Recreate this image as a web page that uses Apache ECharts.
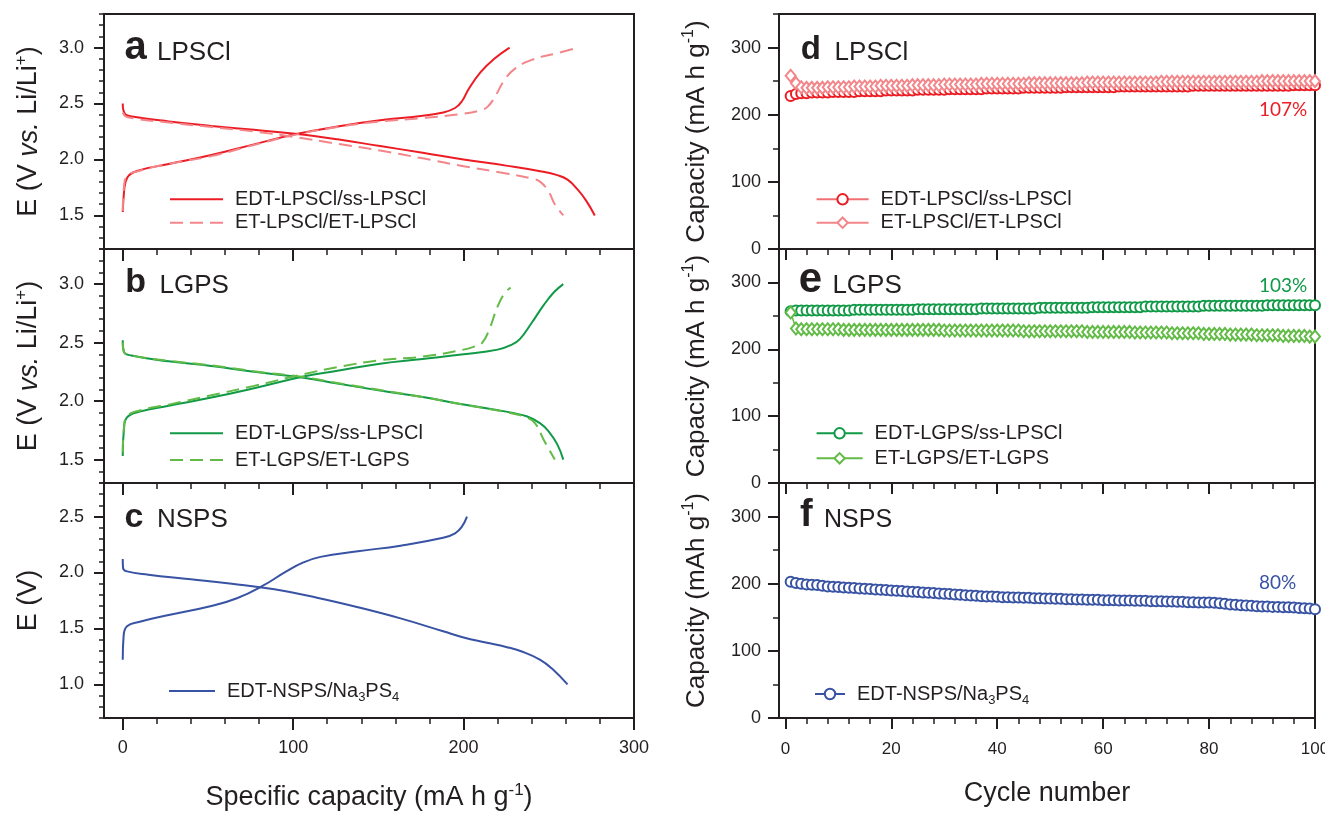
<!DOCTYPE html>
<html><head><meta charset="utf-8">
<script src="https://cdn.jsdelivr.net/npm/echarts@6/dist/echarts.min.js"></script>
<style>html,body{margin:0;padding:0;background:#fff}#c{width:1325px;height:813px}</style>
</head><body><div id="c"></div>
<script>
// ---------- voltage profiles: [specific capacity (mA h g-1), E (V)] ----------
const capA_EDT_dis = [[0,2.50],[1.2,2.41],[7.4,2.38],[27,2.34],[52,2.30],[77,2.265],[101,2.23],[126,2.18],[151,2.12],[176,2.06],[200,2.00],[225,1.945],[245,1.895],[255,1.86],[261,1.82],[267,1.73],[272,1.63],[277,1.50]];
const capA_EDT_chg = [[0,1.53],[0.5,1.66],[1.5,1.79],[3.7,1.86],[10,1.905],[27,1.96],[52,2.04],[77,2.135],[101,2.225],[126,2.295],[151,2.35],[176,2.39],[188,2.42],[195,2.46],[199,2.52],[203,2.63],[210,2.78],[218,2.90],[227,3.00]];
const capA_ET_dis = [[0,2.42],[2.5,2.38],[27,2.33],[52,2.29],[77,2.25],[101,2.20],[126,2.14],[151,2.08],[176,2.01],[200,1.94],[225,1.875],[240,1.83],[245,1.80],[250,1.71],[253.5,1.60],[258.5,1.50]];
const capA_ET_chg = [[0,1.54],[0.7,1.75],[2.5,1.85],[10,1.90],[27,1.96],[52,2.03],[77,2.13],[101,2.22],[126,2.29],[151,2.34],[176,2.37],[200,2.41],[210,2.44],[214,2.47],[218,2.55],[224,2.71],[230,2.81],[240,2.89],[255,2.95],[267,3.00]];

const capB_EDT_dis = [[0,2.52],[0.7,2.42],[5,2.39],[27,2.34],[52,2.30],[77,2.25],[106,2.20],[126,2.15],[151,2.09],[176,2.035],[200,1.97],[225,1.91],[237,1.87],[245,1.81],[250,1.74],[255,1.63],[258.5,1.50]];
const capB_EDT_chg = [[0,1.53],[0.7,1.76],[2.5,1.86],[10,1.91],[27,1.96],[52,2.03],[77,2.11],[106,2.21],[126,2.26],[151,2.32],[176,2.36],[200,2.40],[220,2.44],[228,2.48],[233,2.53],[240,2.67],[247,2.82],[253,2.93],[258.5,3.00]];
const capB_ET_dis = [[0,2.50],[0.7,2.42],[5,2.39],[27,2.345],[52,2.305],[77,2.255],[106,2.205],[126,2.155],[151,2.095],[176,2.035],[200,1.97],[225,1.905],[237,1.86],[242,1.81],[247,1.67],[253.5,1.50]];
const capB_ET_chg = [[0,1.56],[0.7,1.77],[2.5,1.87],[10,1.92],[27,1.97],[52,2.05],[77,2.13],[106,2.23],[126,2.29],[151,2.35],[176,2.38],[200,2.44],[207,2.47],[211,2.50],[215,2.61],[220,2.81],[224,2.92],[227.6,2.97]];

const capC_dis = [[0,2.12],[0.2,2.04],[2.5,2.01],[15,1.98],[40,1.94],[64,1.90],[89,1.85],[114,1.775],[138,1.69],[163,1.59],[188,1.475],[200,1.42],[213,1.375],[225,1.335],[235,1.29],[245,1.22],[252,1.14],[261,1.00]];
const capC_chg = [[0,1.22],[0.5,1.43],[2.5,1.52],[10,1.56],[27,1.62],[52,1.70],[67,1.77],[82,1.88],[96,2.01],[106,2.09],[116,2.14],[138,2.19],[163,2.24],[188,2.31],[195,2.35],[199,2.41],[202,2.50]];

// ---------- cycling: capacity (mA h g-1) per cycle ----------
const cycleNo = [1,2,3,4,5,6,7,8,9,10,11,12,13,14,15,16,17,18,19,20,21,22,23,24,25,26,27,28,29,30,31,32,33,34,35,36,37,38,39,40,41,42,43,44,45,46,47,48,49,50,51,52,53,54,55,56,57,58,59,60,61,62,63,64,65,66,67,68,69,70,71,72,73,74,75,76,77,78,79,80,81,82,83,84,85,86,87,88,89,90,91,92,93,94,95,96,97,98,99,100];
const cycD_EDT = [228,231,232,232,233,233,233,233,234,234,
 234,234,234,235,235,235,235,235,236,236,
 236,236,236,236,237,237,237,237,237,237,
 238,238,238,238,238,238,238,239,239,239,
 239,239,239,239,240,240,240,240,240,240,
 240,240,241,241,241,241,241,241,241,241,
 241,241,242,242,242,242,242,242,242,242,
 242,242,242,242,242,242,243,243,243,243,
 243,243,243,243,243,243,243,243,243,243,
 243,243,243,243,243,244,244,244,244,244];
const cycD_ET = [258,247,241,240,240,240,240,241,241,241,
 241,241,242,242,242,242,242,243,243,243,
 243,243,243,244,244,244,244,244,244,245,
 245,245,245,245,245,245,246,246,246,246,
 246,246,246,246,246,247,247,247,247,247,
 247,247,247,247,247,247,248,248,248,248,
 248,248,248,248,248,248,248,248,248,248,
 249,249,249,249,249,249,249,249,249,249,
 249,249,249,249,249,249,249,249,249,250,
 250,250,250,250,250,250,250,250,250,250];
const cycE_EDT = [257,258,258,258,258,258,258,258,258,258,
 258,258,259,259,259,259,259,259,259,259,
 259,259,259,259,260,260,260,260,260,260,
 260,260,260,260,260,260,261,261,261,261,
 261,261,261,261,261,261,261,262,262,262,
 262,262,262,262,262,262,262,263,263,263,
 263,263,263,263,263,263,263,264,264,264,
 264,264,264,264,264,264,264,264,265,265,
 265,265,265,265,265,265,265,265,265,265,
 266,266,266,266,266,266,266,266,266,266];
const cycE_ET = [255,231,230,230,230,230,230,230,230,230,
 229,229,229,229,229,229,229,229,229,229,
 229,229,229,229,229,229,229,229,229,228,
 228,228,228,228,228,228,228,228,228,228,
 228,228,228,228,227,227,227,227,227,227,
 227,227,227,227,227,227,226,226,226,226,
 226,226,226,226,226,225,225,225,225,225,
 225,225,224,224,224,224,224,224,223,223,
 223,223,223,222,222,222,222,222,221,221,
 221,221,221,220,220,220,220,220,219,219];
const cycF_EDT = [203,201,200,199,198.5,198,197,196,195.5,195,
 194.5,194,193.5,193,192.5,192,191.5,191,190.5,190,
 189.5,189,188.5,188,187.5,187,186.5,186,185.5,185,
 184.5,184,183.5,183,182.5,182,181.5,181,181,180.5,
 180,180,179.5,179.5,179,179,178.5,178.5,178,178,
 177.5,177.5,177,177,176.5,176.5,176,176,176,175.5,
 175.5,175.5,175,175,175,174.5,174.5,174.5,174,174,
 174,173.5,173.5,173,173,172.5,172.5,172,172,172,
 171.5,171,170,169,168.5,168,167.5,167,166.5,166,
 166,165.5,165.5,165,165,164.5,164,163.5,163,162];

// ---------- tick values ----------
const capTicksMajor = [0,100,200,300];
const capTicksMinor = [0,20,40,60,80,100,120,140,160,180,200,220,240,260,280,300];
const cycTicksMajor = [0,20,40,60,80,100];
const cycTicksMinor = [0,4,8,12,16,20,24,28,32,36,40,44,48,52,56,60,64,68,72,76,80,84,88,92,96,100];
const eTicksAB = [1.5,2.0,2.5,3.0];
const eTicksC = [1.0,1.5,2.0,2.5];
const eMinorA = [1.2,1.3,1.4,1.5,1.6,1.7,1.8,1.9,2.0,2.1,2.2,2.3,2.4,2.5,2.6,2.7,2.8,2.9,3.0,3.1,3.2,3.3];
const eMinorB = [1.3,1.4,1.5,1.6,1.7,1.8,1.9,2.0,2.1,2.2,2.3,2.4,2.5,2.6,2.7,2.8,2.9,3.0,3.1,3.2,3.3];
const eMinorC = [0.7,0.8,0.9,1.0,1.1,1.2,1.3,1.4,1.5,1.6,1.7,1.8,1.9,2.0,2.1,2.2,2.3,2.4,2.5,2.6,2.7,2.8];
const qTicksMajor = [0,100,200,300];
const qTicksMinor = [0,50,100,150,200,250,300,350];

// ---------- styling ----------
const FONT = 'Liberation Sans, Arial, Helvetica, sans-serif';
const INK = '#231f20';
const RED = '#ec1c24', PINK = '#f3868a';
const DGREEN = '#109a47', LGREEN = '#62bb46';
const BLUE = '#3852a4';

const grids = [
  {left:104, right:691, top:14, height:235},
  {left:104, right:691, top:249, height:234},
  {left:104, right:691, top:483, height:235},
  {left:779, right:10, top:14, height:235},
  {left:779, right:10, top:249, height:234},
  {left:779, right:10, top:483, height:235}
].map(g => Object.assign({show:true, borderColor:INK, borderWidth:2, backgroundColor:'transparent', containLabel:false, outerBoundsMode:'none'}, g));

const xAxis = [], yAxis = [];
function addAxes(gi, xr, yr) {
  xAxis.push({type:'value', gridIndex:gi, min:xr.min, max:xr.max, position:'bottom',
    axisLine:{show:true, onZero:false, lineStyle:{color:INK, width:2}},
    axisTick:{show:true, inside:false, length:xr.majLen, customValues:xr.major, lineStyle:{color:INK, width:2}},
    axisLabel: xr.labels ? {show:true, customValues:xr.major, margin:xr.margin, color:INK, fontFamily:FONT, fontSize:xr.fs, hideOverlap:false} : {show:false},
    splitLine:{show:false}});
  xAxis.push({type:'value', gridIndex:gi, min:xr.min, max:xr.max, position:'bottom',
    axisLine:{show:false, onZero:false},
    axisTick:{show:true, inside:false, length:xr.minLen, customValues:xr.minor, lineStyle:{color:INK, width:1.5}},
    axisLabel:{show:false}, splitLine:{show:false}});
  yAxis.push({type:'value', gridIndex:gi, min:yr.min, max:yr.max, position:'left',
    axisLine:{show:true, onZero:false, lineStyle:{color:INK, width:2}},
    axisTick:{show:true, inside:false, length:yr.majLen, customValues:yr.major, lineStyle:{color:INK, width:2}},
    axisLabel:{show:true, customValues:yr.major, margin:yr.margin, color:INK, fontFamily:FONT, fontSize:yr.fs,
      formatter: yr.fmt, hideOverlap:false},
    splitLine:{show:false}});
  yAxis.push({type:'value', gridIndex:gi, min:yr.min, max:yr.max, position:'left',
    axisLine:{show:false, onZero:false},
    axisTick:{show:true, inside:false, length:yr.minLen, customValues:yr.minor, lineStyle:{color:INK, width:1.5}},
    axisLabel:{show:false}, splitLine:{show:false}});
}
const f1 = v => v.toFixed(1);
const f0 = v => String(Math.round(v));
const capX = (lab) => ({min:-11, max:300, major:capTicksMajor, minor:capTicksMinor, majLen:12, minLen:6, labels:lab, margin:21, fs:18});
const cycX = (lab) => ({min:-1.2, max:100, major:cycTicksMajor, minor:cycTicksMinor, majLen:11, minLen:6, labels:lab, margin:23, fs:17});
const qY = {min:0, max:350, major:qTicksMajor, minor:qTicksMinor, majLen:11, minLen:6, margin:18, fs:18, fmt:f0};
addAxes(0, capX(false), {min:1.2, max:3.3, major:eTicksAB, minor:eMinorA, majLen:10, minLen:5, margin:20, fs:18, fmt:f1});
addAxes(1, capX(false), {min:1.3, max:3.3, major:eTicksAB, minor:eMinorB, majLen:10, minLen:5, margin:20, fs:18, fmt:f1});
addAxes(2, capX(true),  {min:0.7, max:2.8, major:eTicksC,  minor:eMinorC, majLen:10, minLen:5, margin:20, fs:18, fmt:f1});
addAxes(3, cycX(false), qY);
addAxes(4, cycX(false), qY);
addAxes(5, cycX(true),  qY);

const DASH = [13,7];
function curve(gi, name, data, color, dashed) {
  return {type:'line', name, xAxisIndex:2*gi, yAxisIndex:2*gi, data, symbol:'none', smooth:0.45,
    lineStyle:{color, width:2, type: dashed ? DASH : 'solid'}, itemStyle:{color}, z:3, silent:true};
}
function cyc(gi, name, vals, color, lineColor, sym, size) {
  return {type:'line', name, xAxisIndex:2*gi, yAxisIndex:2*gi, data: cycleNo.map((c,i)=>[c, vals[i]]),
    symbol:sym, symbolSize:size, showSymbol:true, showAllSymbol:true,
    lineStyle:{color:lineColor, width:1.5}, itemStyle:{color, borderColor:color, borderWidth:1.6}, z:3, silent:true};
}
const series = [
  curve(0,'a|EDT-LPSCl/ss-LPSCl', capA_EDT_dis, RED, false),
  curve(0,'a|EDT-LPSCl/ss-LPSCl', capA_EDT_chg, RED, false),
  curve(0,'a|ET-LPSCl/ET-LPSCl', capA_ET_dis, PINK, true),
  curve(0,'a|ET-LPSCl/ET-LPSCl', capA_ET_chg, PINK, true),
  curve(1,'b|EDT-LGPS/ss-LPSCl', capB_EDT_dis, DGREEN, false),
  curve(1,'b|EDT-LGPS/ss-LPSCl', capB_EDT_chg, DGREEN, false),
  curve(1,'b|ET-LGPS/ET-LGPS', capB_ET_dis, LGREEN, true),
  curve(1,'b|ET-LGPS/ET-LGPS', capB_ET_chg, LGREEN, true),
  curve(2,'c|EDT-NSPS/Na3PS4', capC_dis, BLUE, false),
  curve(2,'c|EDT-NSPS/Na3PS4', capC_chg, BLUE, false),
  cyc(3,'d|EDT-LPSCl/ss-LPSCl', cycD_EDT, RED, '#f07075', 'emptyCircle', 10),
  cyc(3,'d|ET-LPSCl/ET-LPSCl', cycD_ET, PINK, PINK, 'emptyDiamond', [10,12]),
  cyc(4,'e|EDT-LGPS/ss-LPSCl', cycE_EDT, DGREEN, DGREEN, 'emptyCircle', 10),
  cyc(4,'e|ET-LGPS/ET-LGPS', cycE_ET, LGREEN, LGREEN, 'emptyDiamond', [10,12]),
  cyc(5,'f|EDT-NSPS/Na3PS4', cycF_EDT, BLUE, BLUE, 'emptyCircle', 10)
];

const fmtName = n => {
  const s = n.slice(2);
  return s === 'EDT-NSPS/Na3PS4' ? 'EDT-NSPS/Na{sub|3}PS{sub|4}' : s;
};
function lg(left, top, gap, w, names, lh, noSymbol) {
  const o = {left, top, orient:'vertical', itemWidth:w, itemHeight:13, itemGap:gap, padding:0, selectedMode:false,
    data:names, formatter:fmtName,
    textStyle:{fontFamily:FONT, fontSize:20, color:INK, lineHeight:lh, padding:[0,0,0,7],
      rich:{sub:{fontFamily:FONT, fontSize:13, color:INK, lineHeight:13, verticalAlign:'bottom'}}}};
  if (noSymbol) o.itemStyle = {opacity:0};
  return o;
}
const legend = [
  lg(169, 189.3, 3.4, 53, ['a|EDT-LPSCl/ss-LPSCl','a|ET-LPSCl/ET-LPSCl'], 20, true),
  lg(169, 423.3, 6.7, 53, ['b|EDT-LGPS/ss-LPSCl','b|ET-LGPS/ET-LGPS'], 20, true),
  lg(168, 678, 0, 46, ['c|EDT-NSPS/Na3PS4'], 26, true),
  lg(815.6, 189.3, 3.4, 52, ['d|EDT-LPSCl/ss-LPSCl','d|ET-LPSCl/ET-LPSCl'], 20, false),
  lg(815.6, 423.3, 5, 46, ['e|EDT-LGPS/ss-LPSCl','e|ET-LGPS/ET-LGPS'], 20, false),
  lg(814, 681, 0, 30, ['f|EDT-NSPS/Na3PS4'], 26, false)
];

// ---------- text ----------
function txt(x, y, text, fs, opts) {
  return {type:'text', x, y, rotation:(opts && opts.rot) || 0, silent:true,
    style:Object.assign({text, fontFamily:FONT, fontSize:fs, fill:INK, align:'left', verticalAlign:'middle'}, (opts && opts.style) || {})};
}
const supRich = (fs) => ({
  it:{fontFamily:FONT, fontSize:fs, fontStyle:'italic', fill:INK, lineHeight:fs+6},
  sup:{fontFamily:FONT, fontSize:Math.round(fs*0.62), fill:INK, lineHeight:Math.round(fs*0.62), verticalAlign:'top'}
});
const AX = 27;
const rot = Math.PI/2;
const PCT = 'Lato, Open Sans, sans-serif';
const graphic = [
  txt(124.5, 48, 'a', 40, {style:{fontWeight:'bold'}}), txt(157, 52.9, 'LPSCl', 26),
  txt(125.3, 283.1, 'b', 34, {style:{fontWeight:'bold'}}), txt(159.5, 285.9, 'LGPS', 26),
  txt(124.5, 517.4, 'c', 34, {style:{fontWeight:'bold'}}), txt(157, 520.2, 'NSPS', 26),
  txt(800.8, 50.1, 'd', 33, {style:{fontWeight:'bold'}}), txt(834.6, 52.6, 'LPSCl', 26),
  txt(798.7, 280.3, 'e', 42, {style:{fontWeight:'bold'}}), txt(832.4, 285.9, 'LGPS', 26),
  txt(800, 516, 'f', 38, {style:{fontWeight:'bold'}}), txt(824, 520.6, 'NSPS', 25),
  txt(1259, 110, '107%', 19, {style:{fill:RED, fontFamily:PCT}}),
  txt(1259, 286, '103%', 19, {style:{fill:DGREEN, fontFamily:PCT}}),
  txt(1259, 582.7, '80%', 19, {style:{fill:BLUE, fontFamily:PCT}}),
  txt(29, 131.5, 'E (V {it|vs.} Li/Li{sup|+})', AX, {rot, style:{align:'center', lineHeight:AX+6, rich:supRich(AX)}}),
  txt(29, 366, 'E (V {it|vs.} Li/Li{sup|+})', AX, {rot, style:{align:'center', lineHeight:AX+6, rich:supRich(AX)}}),
  txt(29, 600.5, 'E (V)', AX, {rot, style:{align:'center'}}),
  txt(697, 131.5, 'Capacity (mA h g{sup|-1})', 26, {rot, style:{align:'center', lineHeight:32, rich:supRich(26)}}),
  txt(697, 366, 'Capacity (mA h g{sup|-1})', 26, {rot, style:{align:'center', lineHeight:32, rich:supRich(26)}}),
  txt(697, 600.5, 'Capacity (mAh g{sup|-1})', 26, {rot, style:{align:'center', lineHeight:32, rich:supRich(26)}}),
  txt(369, 798, 'Specific capacity (mA h g{sup|-1})', AX, {style:{align:'center', lineHeight:AX+6, rich:supRich(AX)}}),
  txt(1047, 794, 'Cycle number', AX, {style:{align:'center'}})
];

const chart = echarts.init(document.getElementById('c'), null, {renderer:'canvas'});
chart.setOption({
  animation:false,
  backgroundColor:'#ffffff',
  textStyle:{fontFamily:FONT},
  grid:grids, xAxis, yAxis, series, legend, graphic
});
</script>
</body></html>
